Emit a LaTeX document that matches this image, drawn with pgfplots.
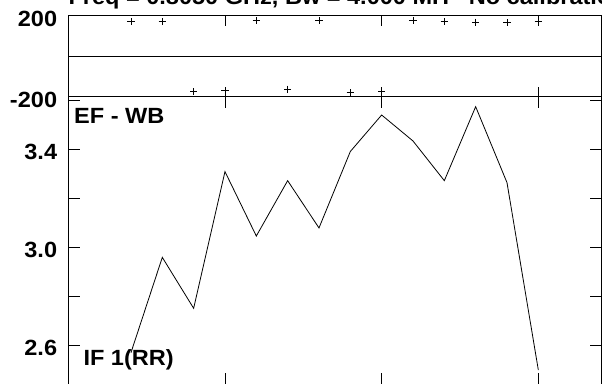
\documentclass[border=0pt]{standalone}
\usepackage{fontspec}
\setmainfont{Liberation Sans}[FakeStretch=1.07]
\usepackage{pgfplots}
\pgfplotsset{compat=1.18}
\pgfplotstableread{
ch amp
2  2.570
3  2.959
4  2.751
5  3.309
6  3.046
7  3.272
8  3.079
9  3.391
10 3.540
11 3.434
12 3.272
13 3.574
14 3.264
15 2.499
}\amptable
\pgfplotstableread{
ch phase
2  170.4
3  170.4
4  -175.3
5  -170.4
6  175.3
7  -163.5
8  175.3
9  -180.0
10 -175.3
11 175.3
12 170.4
13 167.4
14 165.4
15 170.4
}\phasetable
\begin{document}
\begin{tikzpicture}[x=1pt,y=1pt]
\useasboundingbox (0,0) rectangle (602,383);
\clip (0,0) rectangle (602,383);
\pgfplotsset{
  panel/.style={
    scale only axis,
    width=532.7pt,
    xmin=0, xmax=17,
    xtick={5,10,15}, xticklabels={},
    tick align=inside,
    tick pos=both,
    axis line style={line width=1pt, black},
    every tick/.style={black, line width=0.9pt},
    tick label style={font=\bfseries\fontsize{22}{24}\selectfont},
    yticklabel style={anchor=east, inner sep=0pt, xshift=-11pt, yshift=-3pt},
    clip=true,
  }
}
\begin{axis}[panel,
  at={(68.3pt,286.3pt)}, anchor=south west,
  height=81pt,
  ymin=-200, ymax=200,
  ytick={-200,200}, yticklabels={-200,200},
  major tick length=10pt,
]
\addplot[black, line width=1pt] coordinates {(0,0) (17,0)};
\addplot[black, only marks, mark=+, mark size=3.6pt, line width=0.8pt] table[x=ch, y=phase] {\phasetable};
\end{axis}
\begin{axis}[panel,
  at={(68.3pt,286.3pt)}, anchor=north west,
  height=288.3pt,
  ymin=2.438, ymax=3.6147,
  ytick={2.6,2.8,3.0,3.2,3.4,3.6}, yticklabels={2.6,,3.0,,3.4,},
  major tick length=11.5pt,
]
\addplot[black, line width=0.8pt] table[x=ch, y=amp] {\amptable};
\end{axis}
\node[anchor=base west, inner sep=0pt, font=\bfseries\fontsize{22}{24}\selectfont] at (68.3,378) {Freq = 0.8050 GHz, Bw = 4.000 MH\ \ \ No calibration};
\node[anchor=base west, inner sep=0pt, font=\bfseries\fontsize{22}{24}\selectfont] at (74,259.7) {EF - WB};
\node[anchor=base west, inner sep=0pt, font=\bfseries\fontsize{22}{24}\selectfont] at (83.3,18) {IF 1(RR)};
\end{tikzpicture}
\end{document}
